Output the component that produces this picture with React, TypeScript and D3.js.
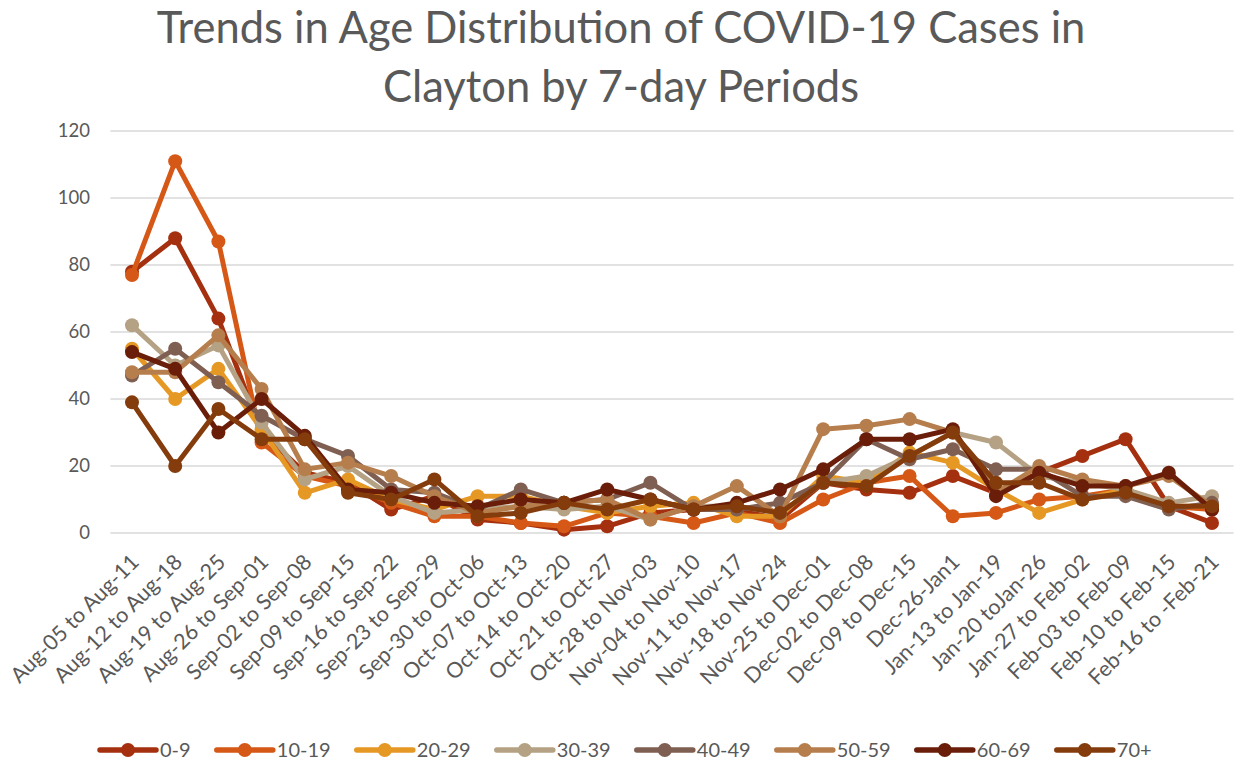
import React from 'react';
import * as d3 from 'd3';

const categories = [
  'Aug-05 to Aug-11', 'Aug-12 to Aug-18', 'Aug-19 to Aug-25', 'Aug-26 to Sep-01',
  'Sep-02 to Sep-08', 'Sep-09 to Sep-15', 'Sep-16 to Sep-22', 'Sep-23 to Sep-29',
  'Sep-30 to Oct-06', 'Oct-07 to Oct-13', 'Oct-14 to Oct-20', 'Oct-21 to Oct-27',
  'Oct-28 to Nov-03', 'Nov-04 to Nov-10', 'Nov-11 to Nov-17', 'Nov-18 to Nov-24',
  'Nov-25 to Dec-01', 'Dec-02 to Dec-08', 'Dec-09 to Dec-15', 'Dec-26-Jan1',
  'Jan-13 to Jan-19', 'Jan-20 toJan-26', 'Jan-27 to Feb-02', 'Feb-03 to Feb-09',
  'Feb-10 to Feb-15', 'Feb-16 to -Feb-21',
];

const age0_9 = [78, 88, 64, 30, 18, 15, 7, 11, 4, 3, 1, 2, 6, 7, 7, 4, 15, 13, 12, 17, 12, 18, 23, 28, 8, 3];
const age10_19 = [77, 111, 87, 27, 17, 14, 9, 5, 5, 3, 2, 6, 5, 3, 6, 3, 10, 15, 17, 5, 6, 10, 11, 13, 8, 7];
const age20_29 = [55, 40, 49, 31, 12, 16, 10, 7, 11, 11, 8, 6, 8, 9, 5, 5, 17, 15, 24, 21, 13, 6, 10, 13, 8, 8];
const age30_39 = [62, 50, 56, 33, 16, 20, 11, 6, 7, 8, 7, 8, 4, 8, 8, 6, 15, 17, 23, 30, 27, 17, 15, 13, 9, 11];
const age40_49 = [47, 55, 45, 35, 28, 23, 13, 12, 7, 13, 9, 10, 15, 7, 7, 9, 15, 28, 22, 25, 19, 19, 11, 11, 7, 9];
const age50_59 = [48, 48, 59, 43, 19, 21, 17, 11, 6, 8, 9, 10, 4, 8, 14, 5, 31, 32, 34, 30, 12, 20, 16, 14, 17, 8];
const age60_69 = [54, 49, 30, 40, 29, 13, 12, 9, 8, 10, 9, 13, 10, 7, 9, 13, 19, 28, 28, 31, 11, 18, 14, 14, 18, 7];
const age70p = [39, 20, 37, 28, 28, 12, 10, 16, 5, 6, 9, 7, 10, 7, 8, 6, 15, 14, 23, 30, 15, 15, 10, 12, 8, 8];

const seriesNames = ['0-9', '10-19', '20-29', '30-39', '40-49', '50-59', '60-69', '70+'];
const seriesValues = [age0_9, age10_19, age20_29, age30_39, age40_49, age50_59, age60_69, age70p];
const seriesColors = ['#A5300F', '#D55816', '#E69824', '#B5A183', '#7F5F52', '#B67E4C', '#6A1D08', '#843C0C'];

const yTicks = [0, 20, 40, 60, 80, 100, 120];

const FONT = 'Lato, "Open Sans", sans-serif';
const TEXT = '#595959';

// rough label width for the legend layout
const textWidth = (s: string, size: number) =>
  s.split('').reduce((w, ch) => w + (ch === '-' ? 0.33 : 0.58), 0) * size;

export default function App() {
  const width = 1236;
  const height = 766;
  const left = 110.4;
  const right = 1233.6;
  const top = 131;
  const bottom = 533;

  const x = d3.scalePoint<string>().domain(categories).range([left, right]).padding(0.5);
  const y = d3.scaleLinear().domain([0, 120]).range([bottom, top]);

  const line = d3.line<number>()
    .x((_, i) => x(categories[i]) as number)
    .y(d => y(d));

  // legend: line sample, then label, entries one after another
  const legendSize = 20;
  let pos = 128;
  const legendX = seriesNames.map(n => {
    const p = pos;
    pos += 87 + textWidth(n, legendSize);
    return p;
  });

  return (
    <svg width={width} height={height} style={{ position: 'absolute', left: 0, top: 0 }}>
      <rect width={width} height={height} fill="#fff" />
      <text x={621} y={43} textAnchor="middle" fontFamily={FONT} fontSize={43.5} fill={TEXT}>
        Trends in Age Distribution of COVID-19 Cases in
      </text>
      <text x={621} y={102} textAnchor="middle" fontFamily={FONT} fontSize={43.5} fill={TEXT}>
        Clayton by 7-day Periods
      </text>

      {yTicks.map(t => (
        <g key={t}>
          <line x1={left} x2={right} y1={y(t)} y2={y(t)} stroke="#d9d9d9" strokeWidth={1.5} />
          <text x={90} y={y(t)} dy="0.35em" textAnchor="end" fontFamily={FONT} fontSize={18.5} fill={TEXT}>{t}</text>
        </g>
      ))}

      {categories.map(c => (
        <text
          key={c}
          transform={`translate(${(x(c) as number) + 3}, 558) rotate(-45)`}
          textAnchor="end"
          dy="0.35em"
          fontFamily={FONT}
          fontSize={21.5}
          fill={TEXT}
        >
          {c}
        </text>
      ))}

      {seriesValues.map((vals, s) => (
        <g key={seriesNames[s]}>
          <path d={line(vals) || ''} fill="none" stroke={seriesColors[s]} strokeWidth={5} strokeLinejoin="round" />
          {vals.map((v, i) => (
            <circle key={i} cx={x(categories[i]) as number} cy={y(v)} r={7} fill={seriesColors[s]} />
          ))}
        </g>
      ))}

      {seriesNames.map((n, s) => {
        const cx = legendX[s];
        return (
          <g key={n}>
            <line x1={cx - 28} x2={cx + 28} y1={750} y2={750} stroke={seriesColors[s]} strokeWidth={5.5} strokeLinecap="round" />
            <circle cx={cx} cy={750} r={7} fill={seriesColors[s]} />
            <text x={cx + 32} y={750} dy="0.35em" fontFamily={FONT} fontSize={legendSize} fill={TEXT}>{n}</text>
          </g>
        );
      })}
    </svg>
  );
}
